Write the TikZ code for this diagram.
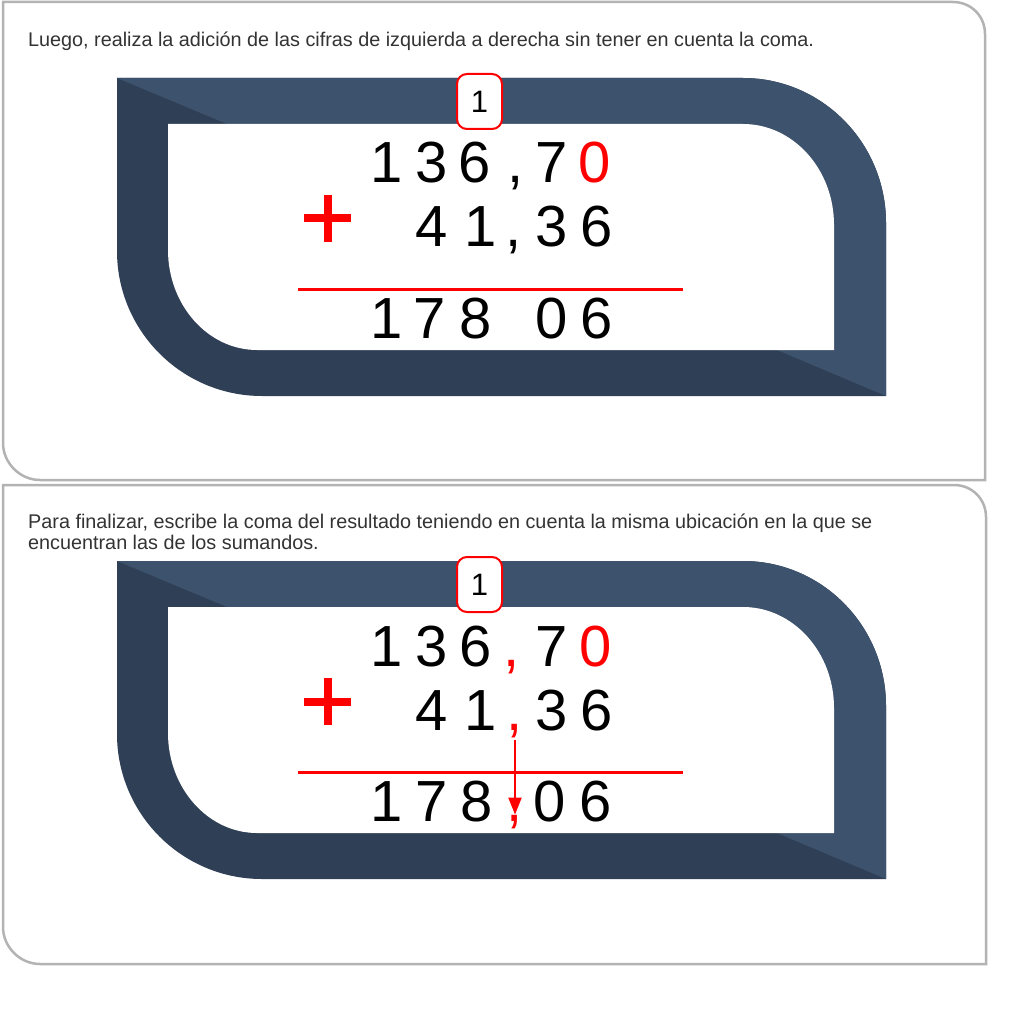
\documentclass[tikz,border=0pt]{standalone}
\usepackage{fontspec}
\setmainfont{Liberation Sans}
\usetikzlibrary{arrows.meta}
\definecolor{frlight}{RGB}{61,82,108}
\definecolor{frdark}{RGB}{47,63,85}
\definecolor{pborder}{RGB}{179,179,179}
\definecolor{txt}{RGB}{51,51,51}
\definecolor{myred}{RGB}{255,0,0}
\newcommand\framedraw{%
  \begin{scope}
    \clip (117,78) -- (743,78) .. controls (822,78) and (886,143) .. (886,223) -- (886,396) -- (262,396) .. controls (182,396) and (117,331) .. (117,251) -- cycle;
    \fill[frdark] (100,60) rectangle (900,400);
    \fill[frlight] (117,78) -- (227,124) -- (777,350) -- (886,396) -- (900,396) -- (900,60) -- (117,60) -- cycle;
  \end{scope}
  \fill[white] (168,124) -- (743,124) .. controls (793,124) and (834,169) .. (834,225) -- (834,350) -- (257,350) .. controls (208,350) and (168,305) .. (168,250) -- cycle;
}
\newcommand\dg[5]{\node[#5] (#1) at (#2,#3) {#4};}
\begin{document}
\begin{tikzpicture}[x=1pt,y=-1pt,
  panel/.style={draw=pborder, line width=2.5pt, fill=white},
  dig/.style={font=\fontsize{58}{58}\selectfont, anchor=base, inner sep=0pt, text=black},
  rdig/.style={dig, text=myred},
  instr/.style={font=\fontsize{19.8}{21}\selectfont, text=txt, anchor=base west, inner sep=0pt},
  badge/.style={draw=myred, line width=2pt, fill=white, rounded corners=10pt, minimum width=45pt, minimum height=55pt, inner sep=0pt, font=\fontsize{31}{31}\selectfont},
  sumline/.style={myred, line width=3pt},
  plus/.style={myred, line width=8pt},
  arrowline/.style={myred, line width=2pt, -{Triangle[length=17pt,width=13pt]}}
]
\useasboundingbox (0,0) rectangle (1024,1024);
% panels
\path[panel] (3,2) -- (953,2) .. controls (971,2) and (985,16) .. (985,34) -- (985,480) -- (40,480) .. controls (20,480) and (3,463) .. (3,443) -- cycle;
\path[panel] (3,485) -- (954,485) .. controls (972,485) and (986,499) .. (986,517) -- (986,964) -- (40,964) .. controls (20,964) and (3,947) .. (3,927) -- cycle;
\node[instr] (t1) at (28,47) {Luego, realiza la adición de las cifras de izquierda a derecha sin tener en cuenta la coma.};
\node[instr] (t2a) at (28,528) {Para finalizar, escribe la coma del resultado teniendo en cuenta la misma ubicación en la que se};
\node[instr] (t2b) at (28,549) {encuentran las de los sumandos.};
% ---------- panel 1
\framedraw
\node[badge] (b1) at (479.5,101.5) {1};
\dg{p1a1}{387}{183}{1}{dig}
\dg{p1a2}{432}{183}{3}{dig}
\dg{p1a3}{475}{183}{6}{dig}
\dg{p1ac}{516}{183}{,}{dig}
\dg{p1a4}{552}{183}{7}{dig}
\dg{p1a5}{595}{183}{0}{rdig}
\dg{p1b1}{432}{247}{4}{dig}
\dg{p1b2}{481}{247}{1}{dig}
\dg{p1bc}{514}{247}{,}{dig}
\dg{p1b3}{552}{247}{3}{dig}
\dg{p1b4}{597}{247}{6}{dig}
\dg{p1s1}{387}{338}{1}{dig}
\dg{p1s2}{430}{338}{7}{dig}
\dg{p1s3}{476}{338}{8}{dig}
\dg{p1s4}{552}{338}{0}{dig}
\dg{p1s5}{597}{338}{6}{dig}
\draw[plus] (304,218.5) -- (351,218.5) (327.5,195) -- (327.5,242);
\draw[sumline] (298,289) -- (683,289);
% ---------- panel 2
\begin{scope}[yshift=-483pt]
\framedraw
\node[badge] (b2) at (479.5,101.5) {1};
\dg{p2a1}{387}{183}{1}{dig}
\dg{p2a2}{432}{183}{3}{dig}
\dg{p2a3}{476}{183}{6}{dig}
\dg{p2ac}{512}{183}{,}{rdig}
\dg{p2a4}{552}{183}{7}{dig}
\dg{p2a5}{596}{183}{0}{rdig}
\dg{p2b1}{432}{247}{4}{dig}
\dg{p2b2}{481}{247}{1}{dig}
\dg{p2bc}{515}{247}{,}{rdig}
\dg{p2b3}{552}{247}{3}{dig}
\dg{p2b4}{597}{247}{6}{dig}
\dg{p2s1}{387}{338}{1}{dig}
\dg{p2s2}{432}{338}{7}{dig}
\dg{p2s3}{477}{338}{8}{dig}
\dg{p2sc}{515}{338}{,}{rdig}
\dg{p2s4}{550}{338}{0}{dig}
\dg{p2s5}{596}{338}{6}{dig}
\draw[plus] (304,218.5) -- (351,218.5) (327.5,195) -- (327.5,242);
\draw[sumline] (298,289) -- (683,289);
\draw[arrowline, shorten <=2pt] (p2bc.south) -- (p2bc.south |- p2sc.north);
\end{scope}
\end{tikzpicture}
\end{document}
